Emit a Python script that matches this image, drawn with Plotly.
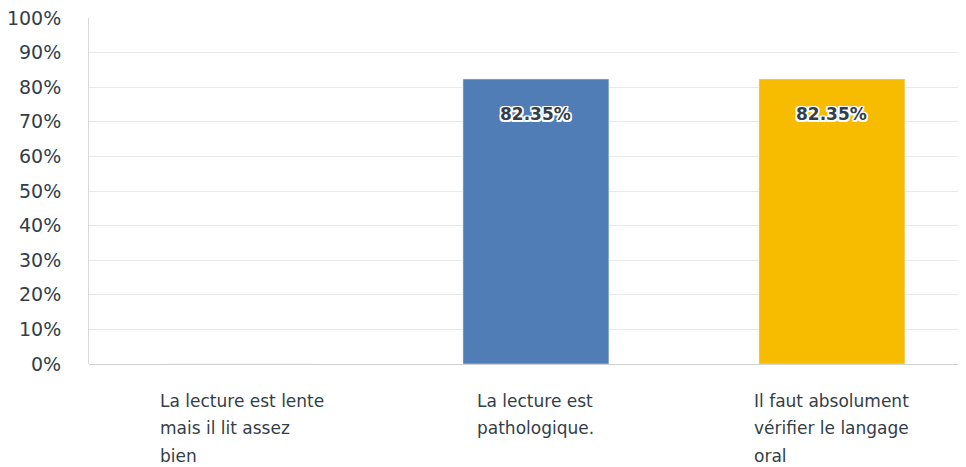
import plotly.graph_objects as go

category_lines = [["La lecture est lente", "mais il lit assez", "bien"],
                  ["La lecture est", "pathologique."],
                  ["Il faut absolument", "vérifier le langage", "oral"]]
values = [0, 82.35, 82.35]
colors = ["#5b8bc7", "#507db5", "#f7bc00"]
label_shift = [-82, -61, -80]
tick_vals = list(range(0, 101, 10))
tick_text = [f"{v}%" for v in tick_vals]

text_color = "#333e48"
font_family = "DejaVu Sans, Noto Sans, sans-serif"

x_idx = list(range(len(values)))

fig = go.Figure()
fig.add_trace(go.Bar(
    x=x_idx, y=values, marker_color=colors, width=0.493,
    hoverinfo="skip",
))

annotations = []
white = "white"
shadow = ", ".join(f"{dx}px {dy}px 0 {white}" for dx in (-1.5, 0, 1.5) for dy in (-1.5, 0, 1.5) if (dx, dy) != (0, 0))
for i, v in enumerate(values):
    if v > 0:
        annotations.append(dict(
            x=i, y=v, xref="x", yref="y", text=f"{v:.2f}%", showarrow=False,
            yshift=-35, yanchor="middle",
            font=dict(size=17, color=text_color, family=font_family,
                      weight="bold", shadow=shadow),
        ))
for i, lines in enumerate(category_lines):
    for k, line in enumerate(lines):
        annotations.append(dict(
            x=i, y=0, xref="x", yref="y", text=line, showarrow=False,
            xanchor="left", yanchor="middle", align="left",
            xshift=label_shift[i], yshift=-36.5 - 27.5 * k,
            font=dict(size=17, color=text_color, family=font_family),
        ))

fig.update_layout(
    width=966, height=459,
    margin=dict(l=81, r=0, t=10, b=103),
    paper_bgcolor="white", plot_bgcolor="white",
    showlegend=False,
    annotations=annotations,
    xaxis=dict(range=[-0.51, 2.48], showticklabels=False, showgrid=False,
               zeroline=False, showline=False, fixedrange=True),
    yaxis=dict(range=[0, 100], tickvals=tick_vals, ticktext=tick_text,
               showgrid=True, gridcolor="#e9e9e9", gridwidth=1,
               showline=True, linecolor="#d9d9d9", linewidth=1,
               zeroline=True, zerolinecolor="#d0d0d0", zerolinewidth=1,
               ticks="outside", ticklen=23, tickcolor="rgba(0,0,0,0)",
               ticklabeloverflow="allow",
               tickfont=dict(size=19, color=text_color, family=font_family)),
)

fig.write_html("out.html")
